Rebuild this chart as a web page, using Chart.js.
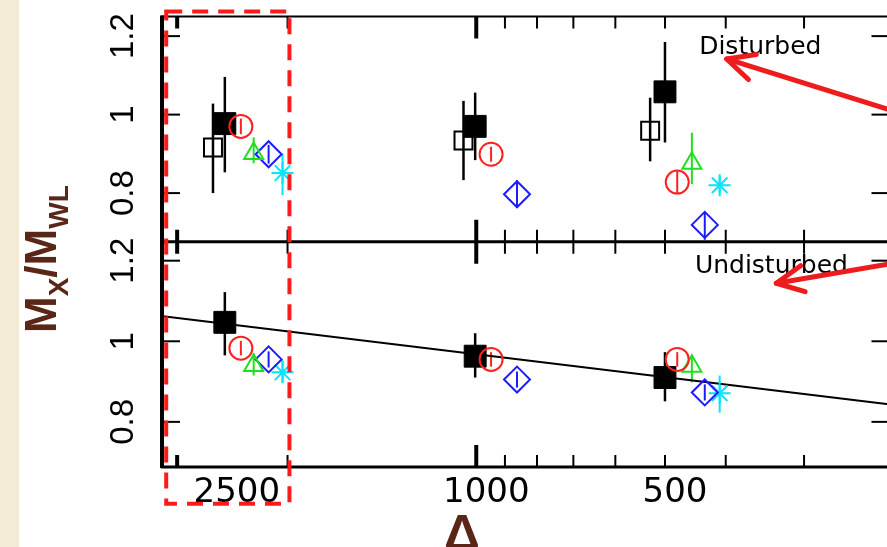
<!DOCTYPE html>
<html><head><meta charset="utf-8">
<script src="https://cdn.jsdelivr.net/npm/chart.js@4.4.1/dist/chart.umd.min.js"></script>
<style>
html,body{margin:0;padding:0;width:887px;height:547px;overflow:hidden;background:#fff;}
#strip{position:absolute;left:0;top:0;width:19px;height:547px;background:#f4ebd4;}
#wrap{position:absolute;left:0;top:0;width:905px;height:547px;}
#c{position:absolute;left:0;top:0;}
.ytitle{position:absolute;left:19px;top:333px;transform-origin:0 0;transform:rotate(-90deg);white-space:nowrap;font-family:"Liberation Sans",Arial,sans-serif;font-weight:bold;font-size:44px;line-height:44px;color:#5a2617;}
.ytitle sub{font-size:28px;line-height:1;vertical-align:-12px;}
.xtitle{position:absolute;left:444px;top:508px;font-family:"Liberation Sans",Arial,sans-serif;font-weight:bold;font-size:50px;line-height:50px;color:#5a2617;}
</style></head>
<body>
<div id="strip"></div>
<div id="wrap"><canvas id="c" width="905" height="547"></canvas></div>
<div class="ytitle">M<sub>X</sub>/M<sub>WL</sub></div>
<div class="xtitle">Δ</div>
<script>
// ---- axis ticks ----
const deltaTickValues = [2500, 1000, 500];
const deltaTickLabels = ['2500', '1000', '500'];
const deltaMinorTicks = [2000, 900, 800, 700, 600, 500, 400, 300];
const deltaThickTicks = [3000];
const deltaLongTicks = [1000];
const ratioTickValues = [0.8, 1.0, 1.2];
const ratioTickLabels = ['0.8', '1', '1.2'];

// ---- Disturbed (top panel) ----
const dFilledX = [2518, 1004, 500];
const dFilledY = [0.977, 0.970, 1.058];
const dFilledLo = [0.853, 0.884, 0.929];
const dFilledHi = [1.096, 1.056, 1.185];
const dOpenX = [2630, 1048, 528];
const dOpenY = [0.916, 0.934, 0.959];
const dOpenLo = [0.800, 0.833, 0.881];
const dOpenHi = [1.028, 1.035, 1.043];
const dRedX = [2374, 947, 478];
const dRedY = [0.970, 0.899, 0.828];
const dRedLo = [0.950, 0.880, 0.800];
const dRedHi = [0.990, 0.918, 0.856];
const dGreenX = [2265, null, 453];
const dGreenY = [0.901, null, 0.876];
const dGreenLo = [0.876, null, 0.823];
const dGreenHi = [0.942, null, 0.954];
const dBlueX = [2144, 861, 432];
const dBlueY = [0.899, 0.797, 0.719];
const dBlueLo = [0.875, 0.762, 0.681];
const dBlueHi = [0.923, 0.833, 0.752];
const dCyanX = [2037, null, 409];
const dCyanY = [0.851, null, 0.820];
const dCyanLo = [0.795, null, 0.800];
const dCyanHi = [0.901, null, 0.843];

// ---- Undisturbed (bottom panel) ----
const uFilledX = [2518, 1004, 500];
const uFilledY = [1.047, 0.963, 0.910];
const uFilledLo = [0.965, 0.910, 0.851];
const uFilledHi = [1.122, 1.020, 0.973];
const uRedX = [2374, 947, 478];
const uRedY = [0.983, 0.955, 0.955];
const uRedLo = [0.965, 0.937, 0.937];
const uRedHi = [1.001, 0.973, 0.973];
const uGreenX = [2265, null, 453];
const uGreenY = [0.940, null, 0.938];
const uGreenLo = [0.915, null, 0.898];
const uGreenHi = [0.970, null, 0.960];
const uBlueX = [2144, 861, 432];
const uBlueY = [0.955, 0.905, 0.873];
const uBlueLo = [0.935, 0.885, 0.853];
const uBlueHi = [0.975, 0.925, 0.893];
const uCyanX = [2037, null, 409];
const uCyanY = [0.923, null, 0.871];
const uCyanLo = [0.898, null, 0.823];
const uCyanHi = [0.953, null, 0.915];

// ---- fit line (undisturbed) ----
const fitX = [3160, 220];
const fitY = [1.062, 0.844];

// ---- annotations (data coordinates) ----
const noteBox = {x1: 3123, x2: 1986, yTopVal: 1.263, yBotVal: 0.597};
const notes = [
  {text: 'Disturbed', x: 441, y: 1.154, axis: 'yTop'},
  {text: 'Undisturbed', x: 448, y: 1.169, axis: 'yBot'}
];
const arrows = [
  {from: [199.3, 0.9916], to: [398.7, 1.1418], axis: 'yTop'},
  {from: [199.3, 1.203], to: [332.2, 1.144], axis: 'yBot'}
];

const RED = '#ff2020', GREEN = '#1ee01e', BLUE = '#1c1cff', CYAN = '#00e6ff';
const pts = (xs, ys) => xs.map((x, i) => ({x: x, y: ys[i]}));

function marker(label, xs, ys, lo, hi, axis, style, r, color, fill, order, bw) {
  return {
    label: label, data: pts(xs, ys), yAxisID: axis, xAxisID: 'x',
    pointStyle: style, pointRadius: r, pointHoverRadius: r,
    borderColor: color, backgroundColor: fill, pointBorderWidth: bw || 2, borderWidth: bw || 2,
    showLine: false, order: order, errLo: lo, errHi: hi, clip: false
  };
}

const datasets = [
  marker('D filled', dFilledX, dFilledY, dFilledLo, dFilledHi, 'yTop', 'rect', 15.5, '#000', '#000', 1, 1),
  marker('D open', dOpenX, dOpenY, dOpenLo, dOpenHi, 'yTop', 'rect', 12.7, '#000', 'rgba(0,0,0,0)', 2, 2),
  marker('D red', dRedX, dRedY, dRedLo, dRedHi, 'yTop', 'circle', 11.5, RED, 'rgba(0,0,0,0)', 0),
  marker('D green', dGreenX, dGreenY, dGreenLo, dGreenHi, 'yTop', 'triangle', 11, GREEN, 'rgba(0,0,0,0)', 0),
  marker('D blue', dBlueX, dBlueY, dBlueLo, dBlueHi, 'yTop', 'rectRot', 13, BLUE, 'rgba(0,0,0,0)', 0),
  marker('D cyan', dCyanX, dCyanY, dCyanLo, dCyanHi, 'yTop', 'star', 11, CYAN, 'rgba(0,0,0,0)', 0),
  marker('U filled', uFilledX, uFilledY, uFilledLo, uFilledHi, 'yBot', 'rect', 15.5, '#000', '#000', 1, 1),
  marker('U red', uRedX, uRedY, uRedLo, uRedHi, 'yBot', 'circle', 11.5, RED, 'rgba(0,0,0,0)', 0),
  marker('U green', uGreenX, uGreenY, uGreenLo, uGreenHi, 'yBot', 'triangle', 11, GREEN, 'rgba(0,0,0,0)', 0),
  marker('U blue', uBlueX, uBlueY, uBlueLo, uBlueHi, 'yBot', 'rectRot', 13, BLUE, 'rgba(0,0,0,0)', 0),
  marker('U cyan', uCyanX, uCyanY, uCyanLo, uCyanHi, 'yBot', 'star', 11, CYAN, 'rgba(0,0,0,0)', 0),
  {label: 'fit', type: 'line', data: pts(fitX, fitY), yAxisID: 'yBot', xAxisID: 'x',
   borderColor: '#000', borderWidth: 2, pointRadius: 0, showLine: true, order: 3, fill: false}
];

const deco = {
  id: 'deco',
  beforeDatasetsDraw(chart) {
    const ctx = chart.ctx;
    chart.data.datasets.forEach((ds, di) => {
      if (!ds.errLo) return;
      const meta = chart.getDatasetMeta(di);
      const ys = chart.scales[ds.yAxisID];
      ctx.save();
      ctx.strokeStyle = ds.borderColor;
      ctx.lineWidth = ds.borderColor === '#000' ? 2.5 : 2;
      meta.data.forEach((pt, i) => {
        if (ds.errLo[i] == null || ds.errHi[i] == null) return;
        ctx.beginPath();
        ctx.moveTo(pt.x, ys.getPixelForValue(ds.errLo[i]));
        ctx.lineTo(pt.x, ys.getPixelForValue(ds.errHi[i]));
        ctx.stroke();
      });
      ctx.restore();
    });
  },
  afterDatasetsDraw(chart) {
    const ctx = chart.ctx;
    const {left, right} = chart.chartArea;
    const xs = chart.scales.x, yt = chart.scales.yTop, yb = chart.scales.yBot;
    ctx.save();
    ctx.strokeStyle = '#000';
    ctx.lineCap = 'butt';
    const hline = (y, w) => { ctx.lineWidth = w; ctx.beginPath(); ctx.moveTo(left - 2, y); ctx.lineTo(right, y); ctx.stroke(); };
    hline(yt.top, 2);
    hline(yt.bottom, 3);
    hline(yb.bottom, 3);
    ctx.lineWidth = 4;
    ctx.beginPath(); ctx.moveTo(left - 1, yt.top - 1); ctx.lineTo(left - 1, yb.bottom + 1); ctx.stroke();
    ctx.lineWidth = 2;
    ctx.beginPath(); ctx.moveTo(right, yt.top); ctx.lineTo(right, yb.bottom); ctx.stroke();
    const xtick = (v, len, w) => {
      const px = xs.getPixelForValue(v);
      ctx.lineWidth = w;
      [yt, yb].forEach(p => {
        ctx.beginPath(); ctx.moveTo(px, p.top); ctx.lineTo(px, p.top + len); ctx.stroke();
        ctx.beginPath(); ctx.moveTo(px, p.bottom); ctx.lineTo(px, p.bottom - len); ctx.stroke();
      });
    };
    deltaMinorTicks.forEach(v => xtick(v, 12, 2));
    deltaThickTicks.forEach(v => xtick(v, 12, 4));
    deltaLongTicks.forEach(v => xtick(v, 22, 4));
    [yt, yb].forEach(p => {
      ratioTickValues.forEach(v => {
        const py = p.getPixelForValue(v);
        ctx.lineWidth = 2;
        ctx.beginPath(); ctx.moveTo(left, py); ctx.lineTo(left + 17, py); ctx.stroke();
        ctx.beginPath(); ctx.moveTo(right, py); ctx.lineTo(right - 17, py); ctx.stroke();
      });
    });
    ctx.restore();
  },
  afterDraw(chart) {
    const ctx = chart.ctx;
    const xs = chart.scales.x;
    ctx.save();
    ctx.fillStyle = '#000';
    ctx.font = '25px "DejaVu Sans"';
    ctx.textAlign = 'left';
    ctx.textBaseline = 'alphabetic';
    notes.forEach(n => {
      ctx.fillText(n.text, xs.getPixelForValue(n.x), chart.scales[n.axis].getPixelForValue(n.y));
    });
    // dashed highlight box
    const bx1 = xs.getPixelForValue(noteBox.x1), bx2 = xs.getPixelForValue(noteBox.x2);
    const by1 = chart.scales.yTop.getPixelForValue(noteBox.yTopVal);
    const by2 = chart.scales.yBot.getPixelForValue(noteBox.yBotVal);
    ctx.strokeStyle = '#ff1a1a';
    ctx.lineWidth = 4;
    ctx.setLineDash([16, 10]);
    ctx.strokeRect(bx1, by1, bx2 - bx1, by2 - by1);
    ctx.setLineDash([]);
    // arrows
    ctx.strokeStyle = '#ee1c1c';
    ctx.lineWidth = 5;
    ctx.lineCap = 'round';
    ctx.lineJoin = 'round';
    arrows.forEach(a => {
      const ys = chart.scales[a.axis];
      const x0 = xs.getPixelForValue(a.from[0]), y0 = ys.getPixelForValue(a.from[1]);
      const x1 = xs.getPixelForValue(a.to[0]), y1 = ys.getPixelForValue(a.to[1]);
      const ang = Math.atan2(y0 - y1, x0 - x1);
      ctx.beginPath(); ctx.moveTo(x0, y0); ctx.lineTo(x1, y1); ctx.stroke();
      const hl = 30, sp = 26 * Math.PI / 180;
      ctx.beginPath();
      ctx.moveTo(x1 + hl * Math.cos(ang + sp), y1 + hl * Math.sin(ang + sp));
      ctx.lineTo(x1, y1);
      ctx.lineTo(x1 + hl * Math.cos(ang - sp), y1 + hl * Math.sin(ang - sp));
      ctx.stroke();
    });
    ctx.restore();
  }
};

const yAxis = (min, max, weight) => ({
  type: 'linear', position: 'left', stack: 'panels', stackWeight: 1, weight: weight,
  min: min, max: max,
  grid: {display: false}, border: {display: false},
  afterBuildTicks: s => { s.ticks = ratioTickValues.map(v => ({value: v})); },
  afterFit: s => { s.width = 163; s.paddingTop = 0; s.paddingBottom = 0; },
  ticks: {
    autoSkip: false, minRotation: 90, maxRotation: 90, crossAlign: 'center', padding: 8,
    color: '#000', font: {family: '"Liberation Sans", Arial, sans-serif', size: 33},
    callback: (v, i) => ratioTickLabels[i]
  }
});

new Chart(document.getElementById('c'), {
  type: 'scatter',
  data: {datasets: datasets},
  options: {
    responsive: false, animation: false, devicePixelRatio: 1, events: [],
    layout: {padding: {top: 15, left: 0, right: 12, bottom: 0}},
    plugins: {legend: {display: false}, tooltip: {enabled: false}},
    scales: {
      x: {
        type: 'logarithmic', position: 'bottom', reverse: true, min: 220, max: 3160,
        grid: {display: false}, border: {display: false},
        afterBuildTicks: s => { s.ticks = deltaTickValues.map(v => ({value: v})); },
        afterFit: s => { s.height = 80; s.paddingLeft = 0; s.paddingRight = 0; },
        ticks: {
          autoSkip: false, minRotation: 0, maxRotation: 0, padding: 1, labelOffset: 10,
          color: '#000', font: {family: '"DejaVu Sans", sans-serif', size: 34, lineHeight: 1},
          callback: (v, i) => deltaTickLabels[i]
        }
      },
      yBot: yAxis(0.688, 1.247, 0),
      yTop: yAxis(0.676, 1.25, 1)
    }
  },
  plugins: [deco]
});
</script>
</body></html>
